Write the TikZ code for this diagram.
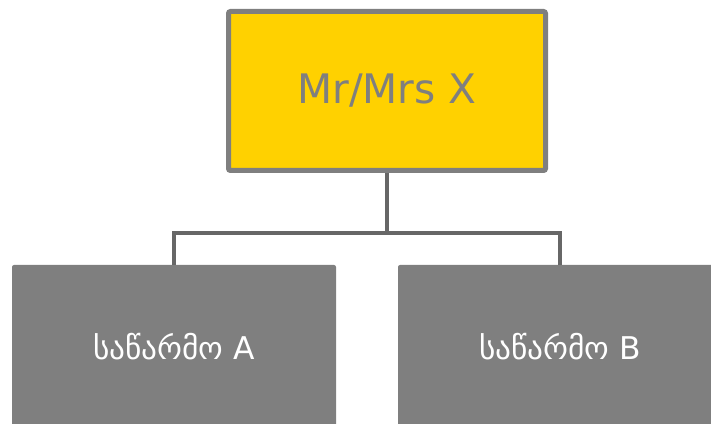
\documentclass[tikz,border=0pt]{standalone}
\usepackage{fontspec}
\setmainfont{DejaVu Sans}
\usetikzlibrary{positioning}
\definecolor{chiefyellow}{HTML}{FFD100}
\definecolor{boxgray}{HTML}{7F7F7F}
\definecolor{linegray}{HTML}{676767}
\tikzset{
  orgchart/.style={
	x=0.75pt, y=-0.75pt, % one unit is one pixel, y runs downwards
	every node/.style={align=center, inner sep=0pt},
  },
  chief/.style={draw=boxgray, line width=3.75pt, fill=chiefyellow, text=boxgray,
	rounded corners=1.5pt, minimum width=237.75pt, minimum height=119.25pt,
	font=\fontsize{30.5}{36}\selectfont},
  unit/.style={fill=boxgray, text=white, rounded corners=1.5pt,
	minimum width=243pt, minimum height=123pt,
	font=\fontsize{23.5}{28}\selectfont},
  branch/.style={draw=linegray, line width=3pt}, % the connectors
}
\begin{document}
\begin{tikzpicture}[orgchart]
	  \clip (0,0) rectangle (711,424);
	  \node[chief] (boss) at (387,91) {Mr/Mrs X};
	  \node[unit] (unitA) at (174,347) {საწარმო A};
	  \node[unit] (unitB) at (560,347) {საწარმო B};
	  \coordinate (fork) at (387,233);

	  \draw[branch] (boss.south) -- (fork) -| (unitA.north);
	  \draw[branch] (fork) -| (unitB.north);
\end{tikzpicture}
\end{document}
